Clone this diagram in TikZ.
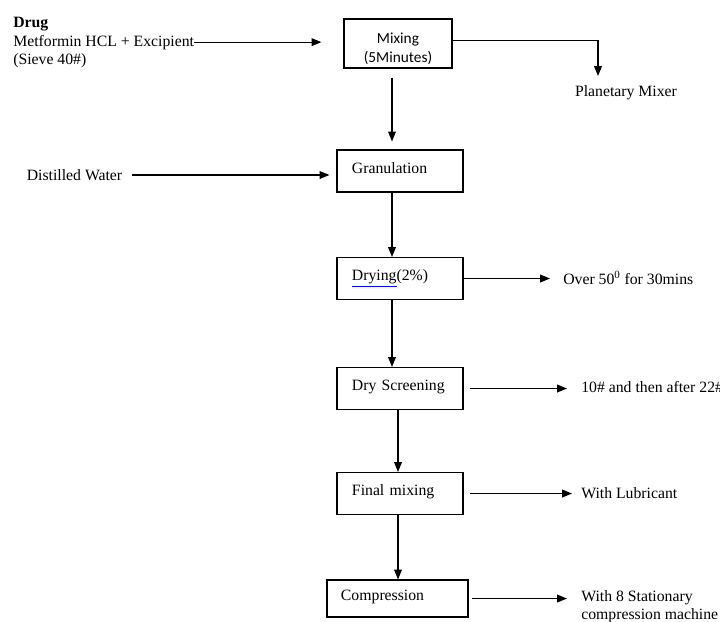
\documentclass[tikz,border=0pt]{standalone}
\usepackage{fontspec}
\setmainfont{Liberation Serif}
\newfontfamily\calfont{Carlito}
\usetikzlibrary{arrows.meta,positioning}

\tikzset{
  stepbox/.style={draw, line width=0.8pt, minimum height=1.05cm, text width=2.4cm,
    inner xsep=0.375cm, inner ysep=0pt, text height=8pt, text depth=5pt, align=left},
  mixbox/.style={draw, line width=0.8pt, minimum width=2.7cm, minimum height=1.225cm,
    inner ysep=0pt, align=center, text height=28pt, font=\calfont\fontsize{10.9}{13.5}\selectfont},
  flow/.style={line width=0.8pt, -{Triangle[length=7pt,width=5.5pt]}},
  lbl/.style={inner sep=0pt, align=left}
}

\begin{document}
\begin{tikzpicture}[x=0.025cm, y=-0.025cm, font=\fontsize{11.2}{12.8}\selectfont]
\useasboundingbox (0,0) rectangle (720,621);

% inputs on the left
\node[lbl, anchor=base west] (drug) at (13,27) {\textbf{Drug}};
\node[lbl, anchor=base west] (metf) at (13,46) {Metformin HCL + Excipient};
\node[lbl, anchor=base west] (sieve) at (13,64.5) {(Sieve 40\#)};
\node[lbl] (dist) at (74.5,175) {Distilled Water};

% process steps
\node[mixbox] (mix) at (398,43.5) {Mixing\\(5Minutes)};
\node[stepbox] (gran) at (400,171) {Granulation};
\node[stepbox] (dry) at (400,278.5) {{\color{blue}\underline{\color{black}Drying}}(2\%)};
\node[stepbox] (screen) at (400,388.5) {Dry Screening};
\node[stepbox] (final) at (400,493.5) {Final mixing};
\node[stepbox, text width=2.825cm, inner xsep=0.35cm, minimum height=0.925cm] (comp) at (397.5,598.5) {Compression};

% notes on the right
\node[lbl] (planet) at (626,93) {Planetary Mixer};
\coordinate (pm) at (598,76);
\node[lbl, anchor=base west] (over) at (563,284.5) {Over 50\textsuperscript{0} for 30mins};
\node[lbl, anchor=base west] (mesh) at (581,392) {10\# and then after 22\#};
\node[lbl, anchor=base west] (lub) at (581,498) {With Lubricant};
\node[lbl, anchor=base west] (mach) at (581,619) {With 8 Stationary\\compression machine};

% main flow
\draw[flow, shorten >=0.55cm] (metf.east) -- (metf.east -| mix.west);
\draw[flow] ([yshift=2pt]mix.east) -| (pm);
\draw[flow, shorten <=0.225cm, shorten >=0.2cm] ([xshift=-0.15cm]mix.south) -- ([xshift=-0.15cm]mix.south |- gran.north);
\draw[flow, shorten <=0.25cm, shorten >=0.175cm] (dist.east) -- (dist.east -| gran.west);
\draw[flow] ([xshift=-0.2cm]gran.south) -- ([xshift=-0.2cm]gran.south |- dry.north);
\draw[flow] ([xshift=-0.2cm]dry.south) -- ([xshift=-0.2cm]dry.south |- screen.north);
\draw[flow] ([xshift=-0.05cm]screen.south) -- ([xshift=-0.05cm]screen.south |- final.north);
\draw[flow] ([xshift=-0.05cm]final.south) -- ([xshift=-0.05cm]final.south |- comp.north);

% side arrows
\draw[flow, shorten >=0.325cm] (dry.east) -- (dry.east -| over.west);
\draw[flow, shorten <=0.15cm, shorten >=0.35cm] (screen.east) -- (screen.east -| mesh.west);
\draw[flow, shorten <=0.15cm, shorten >=0.225cm] (final.east) -- (final.east -| lub.west);
\draw[flow, shorten <=0.075cm, shorten >=0.35cm] (comp.east) -- (comp.east -| mach.west);

\end{tikzpicture}
\end{document}
